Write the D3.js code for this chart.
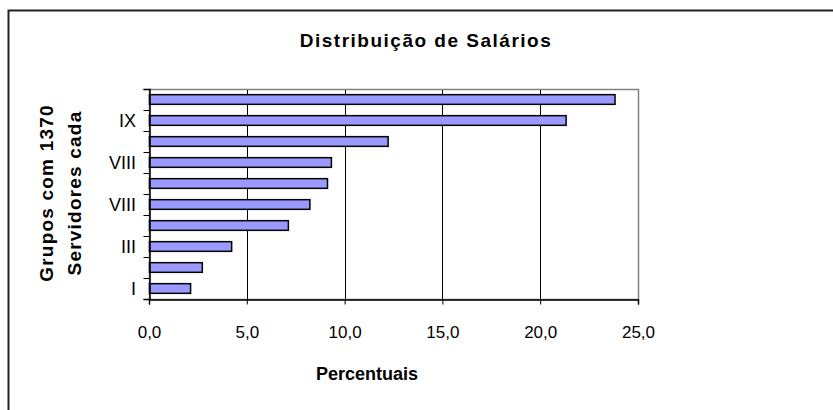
<!DOCTYPE html>
<html>
<head>
<meta charset="utf-8">
<script src="https://cdn.jsdelivr.net/npm/d3@7"></script>
<style>
  body { margin: 0; background: #fff; }
  text { font-family: "Liberation Sans", Arial, sans-serif; }
</style>
</head>
<body>
<svg id="chart" width="833" height="410"></svg>
<script>
// dados
var categorias = ["I", "II", "III", "IV", "V", "VI", "VII", "VIII", "IX", "X"];
var percentuais = [2.1, 2.7, 4.2, 7.1, 8.2, 9.1, 9.3, 12.2, 21.3, 23.8];
var rotulosY = ["I", "", "III", "", "VIII", "", "VIII", "", "IX", ""];
var ticksX = [0, 5, 10, 15, 20, 25];

var svg = d3.select("#chart");

// moldura externa
svg.append("rect")
    .attr("x", 8.5).attr("y", 10.5)
    .attr("width", 900).attr("height", 500)
    .attr("fill", "#fff")
    .attr("stroke", "#222")
    .attr("stroke-width", 2);

var esq = 149, dir = 638, topo = 89, base = 299;

var x = d3.scaleLinear().domain([0, 25]).range([esq, dir]);

var y = d3.scaleBand()
    .domain(categorias)
    .range([base, topo])
    .paddingInner(0.54)
    .paddingOuter(0.27);

// linhas de grade
svg.append("g").selectAll("line")
    .data(ticksX.slice(1, -1))
    .enter().append("line")
    .attr("x1", function(d) { return Math.round(x(d)) + 0.5; })
    .attr("x2", function(d) { return Math.round(x(d)) + 0.5; })
    .attr("y1", topo).attr("y2", base)
    .attr("stroke", "#000");

// borda da área do gráfico
svg.append("rect")
    .attr("x", esq + 0.5).attr("y", topo + 0.5)
    .attr("width", dir - esq).attr("height", base - topo)
    .attr("fill", "none")
    .attr("stroke", "#808080")
    .attr("stroke-width", 1.5);

// barras
svg.append("g").selectAll("rect")
    .data(percentuais)
    .enter().append("rect")
    .attr("x", x(0) + 0.5)
    .attr("y", function(d, i) { return y(categorias[i]); })
    .attr("width", function(d) { return x(d) - x(0); })
    .attr("height", y.bandwidth())
    .attr("fill", "#9999ff")
    .attr("stroke", "#000")
    .attr("stroke-width", 1.5);

// eixo X
var eixoX = svg.append("g")
    .attr("transform", "translate(0," + (base + 0.5) + ")")
    .call(d3.axisBottom(x)
        .tickValues(ticksX)
        .tickSize(5)
        .tickFormat(function(d) { return d3.format(".1f")(d).replace(".", ","); }));
eixoX.select(".domain").attr("stroke", "#000").attr("stroke-width", 1.5);
eixoX.selectAll(".tick line").attr("stroke", "#000");
eixoX.selectAll("text")
    .attr("y", 38)
    .attr("dy", 0)
    .attr("font-size", 17)
    .attr("fill", "#000")
    .style("font-family", "'Liberation Sans', Arial, sans-serif");

// eixo Y - marcas entre as categorias
var fronteiras = d3.scaleLinear().domain([0, categorias.length]).range([base, topo]);
var eixoY = svg.append("g")
    .attr("transform", "translate(" + (esq + 0.5) + ",0)")
    .call(d3.axisLeft(fronteiras)
        .tickValues(d3.range(categorias.length + 1))
        .tickSize(6)
        .tickFormat(""));
eixoY.select(".domain").attr("stroke", "#000").attr("stroke-width", 1.5);
eixoY.selectAll(".tick line").attr("stroke", "#000");

svg.append("g").selectAll("text")
    .data(rotulosY)
    .enter().append("text")
    .attr("x", 136)
    .attr("y", function(d, i) { return y(categorias[i]) + y.bandwidth() / 2; })
    .attr("dy", "0.36em")
    .attr("text-anchor", "end")
    .attr("font-size", 18)
    .text(function(d) { return d; });

// títulos
svg.append("text")
    .attr("x", 426).attr("y", 47)
    .attr("text-anchor", "middle")
    .attr("font-size", 19)
    .attr("font-weight", "bold")
    .attr("letter-spacing", 1.5)
    .text("Distribuição de Salários");

svg.append("text")
    .attr("x", 367).attr("y", 380)
    .attr("text-anchor", "middle")
    .attr("font-size", 18)
    .attr("font-weight", "bold")
    .text("Percentuais");

var tituloY = svg.append("text")
    .attr("transform", "translate(53,193) rotate(-90)")
    .attr("text-anchor", "middle")
    .attr("font-size", 19)
    .attr("font-weight", "bold")
    .attr("letter-spacing", 1.2);
tituloY.append("tspan").attr("x", 0).attr("dy", 0).text("Grupos com 1370");
tituloY.append("tspan").attr("x", 0).attr("dy", 28).text("Servidores cada");
</script>
</body>
</html>
